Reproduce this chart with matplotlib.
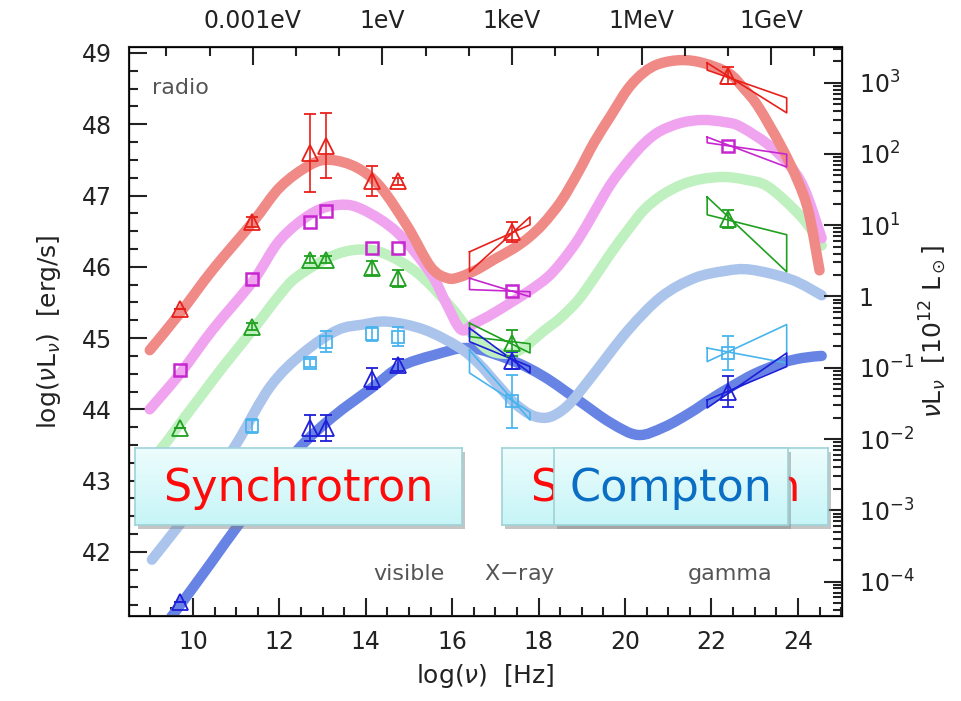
import numpy as np
import matplotlib.pyplot as plt
from matplotlib.patches import Rectangle, PathPatch
from matplotlib.path import Path
from matplotlib.ticker import FixedLocator, FuncFormatter, LogLocator, MultipleLocator, NullFormatter

# model curves: log(nu) vs log(nuLnu)
red_x = [9.0, 9.7, 10.46, 11.39, 12.02, 12.71, 13.18, 13.8, 14.34, 14.97, 15.5, 15.89, 16.19, 16.6, 16.96,
         17.4, 17.75, 18.1, 18.52, 18.91, 19.28, 19.67, 20.07, 20.44, 20.8, 21.3, 21.8, 22.39, 22.75,
         23.09, 23.62, 24.0, 24.25, 24.5]
red_y = [44.83, 45.35, 45.96, 46.63, 47.12, 47.43, 47.5, 47.39, 47.12, 46.56, 46.0, 45.84, 45.86, 45.97, 46.1,
         46.25, 46.4, 46.6, 46.92, 47.32, 47.74, 48.12, 48.5, 48.73, 48.85, 48.9, 48.86, 48.72, 48.5,
         48.24, 47.68, 47.2, 46.76, 45.95]

violet_x = [9.0, 9.7, 10.46, 11.39, 12.02, 12.78, 13.41, 13.94, 14.73, 15.5, 15.85, 16.2, 16.5, 16.96, 17.75,
            18.2, 18.52, 18.91, 19.28, 19.67, 20.07, 20.44, 20.8, 21.3, 21.8, 22.3, 22.69, 23.46, 24.08, 24.55]
violet_y = [44.0, 44.5, 45.12, 45.8, 46.38, 46.76, 46.87, 46.8, 46.48, 45.91, 45.5, 45.12, 45.2, 45.35, 45.65,
            45.85, 46.06, 46.38, 46.76, 47.16, 47.48, 47.73, 47.9, 48.02, 48.06, 48.03, 47.96, 47.64, 47.18, 46.4]

green_x = [9.0, 9.4, 9.7, 10.2, 10.7, 11.39, 12.0, 12.41, 13.18, 13.8, 14.41, 15.2, 15.96, 16.4, 16.8, 17.2,
           17.59, 18.12, 18.5, 18.91, 19.28, 19.67, 20.07, 20.44, 20.84, 21.3, 21.76, 22.3, 22.8, 23.32, 24.08,
           24.55]
green_y = [43.25, 43.55, 43.8, 44.2, 44.6, 45.12, 45.6, 45.86, 46.14, 46.24, 46.19, 45.91, 45.44, 45.1, 44.85,
           44.78, 44.84, 45.1, 45.28, 45.53, 45.84, 46.19, 46.52, 46.8, 47.0, 47.15, 47.23, 47.26, 47.22, 47.12,
           46.7, 46.3]

lblue_x = [9.05, 9.7, 10.3, 11.02, 11.79, 12.55, 13.34, 13.94, 14.5, 15.34, 16.13, 16.6, 17.0, 17.42, 17.8,
           18.12, 18.4, 18.75, 19.28, 20.07, 20.84, 21.6, 22.3, 22.9, 23.85, 24.55]
lblue_y = [41.89, 42.39, 42.87, 43.53, 44.32, 44.79, 45.11, 45.19, 45.23, 45.12, 44.88, 44.65, 44.38, 44.1, 43.93,
           43.88, 43.93, 44.1, 44.5, 45.11, 45.58, 45.84, 45.94, 45.96, 45.82, 45.6]

blue_x = [9.5, 9.7, 10.4, 11.09, 11.8, 12.48, 13.25, 14.18, 14.8, 15.57, 16.4, 17.36, 18.12, 18.91, 19.67,
          20.3, 20.9, 21.5, 22.0, 22.46, 23.0, 23.62, 24.1, 24.55]
blue_y = [41.09, 41.25, 41.83, 42.41, 42.95, 43.47, 43.9, 44.32, 44.6, 44.76, 44.86, 44.69, 44.46, 44.13, 43.81,
          43.64, 43.75, 43.95, 44.15, 44.32, 44.5, 44.65, 44.72, 44.75]

# measured points
nu_pts = [9.7, 11.36, 12.7, 13.08, 14.14, 14.74, 17.38, 22.38]
red_pts = [45.41, 46.63, 47.6, 47.7, 47.2, 47.2, 46.49, 48.68]
red_err = [0.0, 0.07, 0.55, 0.46, 0.21, 0.05, 0.14, 0.12]
violet_pts = [44.55, 45.83, 46.63, 46.78, 46.26, 46.26, 45.66, 47.7]
green_pts = [43.74, 45.16, 46.1, 46.1, 45.98, 45.84, 44.93, 46.67]
green_err = [0.0, 0.05, 0.05, 0.05, 0.1, 0.12, 0.18, 0.12]
cyan_nu = [11.36, 12.7, 13.08, 14.14, 14.74, 17.38, 22.38]
cyan_pts = [43.77, 44.65, 44.95, 45.06, 45.02, 44.11, 44.79]
cyan_err = [0.1, 0.05, 0.15, 0.1, 0.13, 0.37, 0.24]
blue_nu = [9.7, 12.7, 13.08, 14.14, 14.74, 17.38, 22.38]
blue_pts = [41.29, 43.74, 43.74, 44.43, 44.62, 44.68, 44.25]
blue_err = [0.0, 0.18, 0.18, 0.15, 0.08, 0.12, 0.22]

# bowties: (line A left, line A right, line B left, line B right)
xray_edges = (16.4, 17.8)
gamma_edges = (21.9, 23.74)
red_xray = (46.21, 46.59, 45.93, 46.70)
violet_xray = (45.84, 45.58, 45.68, 45.65)
green_xray = (45.21, 44.79, 45.02, 44.92)
blue_xray = (45.14, 44.51, 44.95, 44.60)
cyan_xray = (44.83, 43.85, 44.51, 43.96)
red_gamma = (48.86, 48.16, 48.76, 48.37)
violet_gamma = (47.82, 47.40, 47.74, 47.58)
green_gamma = (46.98, 45.93, 46.73, 46.45)
cyan_gamma = (44.86, 44.65, 44.67, 45.19)
blue_gamma = (44.13, 44.60, 44.02, 44.79)

top_labels = ["0.001eV", "1eV", "1keV", "1MeV", "1GeV"]
top_energy_exp = [-3, 0, 3, 6, 9]

LOG_LSUN12 = np.log10(3.83e45)
LOG_HZ_PER_EV = np.log10(2.418e14)

TXT = '#222222'


def smooth_path(xs, ys):
    # Catmull-Rom through the read points, drawn as cubic bezier segments
    p = np.column_stack([xs, ys]).astype(float)
    ext = np.vstack([p[0], p, p[-1]])
    verts = [p[0]]
    codes = [Path.MOVETO]
    for i in range(1, len(ext) - 2):
        p0, p1, p2, p3 = ext[i - 1], ext[i], ext[i + 1], ext[i + 2]
        verts += [p1 + (p2 - p0) / 6, p2 - (p3 - p1) / 6, p2]
        codes += [Path.CURVE4] * 3
    return Path(verts, codes)


def bowtie(ax, edges, c, color):
    xl, xr = edges
    ax.plot([xl, xr, xr, xl, xl], [c[0], c[1], c[3], c[2], c[0]], color=color, lw=1.2, zorder=3)


def add_box(fig, px, text, color, z):
    W, H = 961.0, 701.0
    x0, y0, x1, y1 = px
    rect = [x0 / W, 1 - y1 / H, (x1 - x0) / W, (y1 - y0) / H]
    shadow = Rectangle((rect[0] + 3 / W, rect[1] - 4 / H), rect[2], rect[3], transform=fig.transFigure,
                       facecolor='#808080', alpha=0.45, edgecolor='none', zorder=z - 1)
    fig.add_artist(shadow)
    bx = fig.add_axes(rect)
    bx.set_zorder(z)
    grad = np.linspace(0, 1, 64).reshape(-1, 1)
    top = np.array([0.93, 0.99, 0.99])
    bot = np.array([0.78, 0.96, 0.97])
    img = top + (bot - top) * grad[:, :, None]
    bx.imshow(img, aspect='auto', extent=(0, 1, 0, 1))
    bx.set_xlim(0, 1)
    bx.set_ylim(0, 1)
    bx.set_xticks([])
    bx.set_yticks([])
    for s in bx.spines.values():
        s.set_color('#9ed3d8')
        s.set_linewidth(1.2)
    bx.text(0.5, 0.48, text, color=color, fontsize=32, ha='center', va='center')


def main():
    fig = plt.figure(figsize=(9.61, 7.01), dpi=100)
    ax = fig.add_axes([129 / 961, 1 - 616 / 701, (842 - 129) / 961, (616 - 47) / 701])

    ax.set_xlim(8.52, 25.02)
    ax.set_ylim(41.10, 49.084)

    curves = [(blue_x, blue_y, '#6784e4'), (lblue_x, lblue_y, '#abc4ec'), (green_x, green_y, '#bff0bf'),
              (violet_x, violet_y, '#f0a4f0'), (red_x, red_y, '#f08a86')]
    for cx, cy, col in curves:
        patch = PathPatch(smooth_path(cx, cy), facecolor='none', edgecolor=col, lw=7.5,
                          capstyle='round', joinstyle='round', zorder=2)
        ax.add_patch(patch)

    # bowties
    for c, col in [(red_xray, '#e8201a'), (violet_xray, '#c626d0'), (green_xray, '#20a020'),
                   (blue_xray, '#1e1ed8'), (cyan_xray, '#48b4ee')]:
        bowtie(ax, xray_edges, c, col)
    for c, col in [(red_gamma, '#e8201a'), (violet_gamma, '#c626d0'), (green_gamma, '#20a020'),
                   (cyan_gamma, '#48b4ee'), (blue_gamma, '#1e1ed8')]:
        bowtie(ax, gamma_edges, c, col)

    kw = dict(ls='none', mfc='none', mew=1.3, elinewidth=1.2, capsize=4.3, capthick=1.2, zorder=4)
    ax.errorbar(nu_pts, red_pts, yerr=red_err, marker='^', ms=11, color='#e8201a', **kw)
    ax.plot(nu_pts, violet_pts, ls='none', marker='s', ms=8, mfc='none', mew=1.8, color='#c626d0', zorder=4)
    ax.errorbar(nu_pts, green_pts, yerr=green_err, marker='^', ms=11, color='#20a020', **kw)
    ax.errorbar(cyan_nu, cyan_pts, yerr=cyan_err, marker='s', ms=8, color='#48b4ee', **kw)
    ax.errorbar(blue_nu, blue_pts, yerr=blue_err, marker='^', ms=11, color='#1e1ed8', **kw)

    # band labels
    ax.text(9.05, 48.51, 'radio', fontsize=16, color='#555555', va='center', ha='left')
    ax.text(15.01, 41.69, 'visible', fontsize=16, color='#555555', va='center', ha='center')
    ax.text(17.56, 41.69, 'X$-$ray', fontsize=16, color='#555555', va='center', ha='center')
    ax.text(22.44, 41.69, 'gamma', fontsize=16, color='#555555', va='center', ha='center')

    # left / bottom axes
    ax.xaxis.set_major_locator(MultipleLocator(2))
    ax.xaxis.set_minor_locator(MultipleLocator(0.5))
    ax.yaxis.set_major_locator(MultipleLocator(1))
    ax.yaxis.set_minor_locator(MultipleLocator(0.25))
    ax.tick_params(which='both', direction='in', top=False, right=False, width=1.5, colors=TXT,
                   labelsize=17)
    ax.tick_params(which='major', length=13)
    ax.tick_params(which='minor', length=6.5)
    ax.tick_params(axis='y', pad=12)
    ax.tick_params(axis='x', pad=10)
    for s in ax.spines.values():
        s.set_linewidth(1.5)
        s.set_color(TXT)
    ax.set_xlabel(r'log($\nu$)  [Hz]', fontsize=18, color=TXT, labelpad=6)
    ax.set_ylabel(r'log($\nu$L$_\nu$)  [erg/s]', fontsize=18, color=TXT, labelpad=14)

    # right axis in 10^12 Lsun
    ax2 = ax.twinx()
    ax2.set_yscale('log')
    ax2.set_ylim(10 ** (41.10 - LOG_LSUN12), 10 ** (49.084 - LOG_LSUN12))
    ax2.yaxis.set_major_locator(LogLocator(base=10, numticks=20))
    ax2.yaxis.set_minor_locator(LogLocator(base=10, subs=np.arange(2, 10), numticks=20))
    ax2.yaxis.set_minor_formatter(NullFormatter())
    ax2.yaxis.set_major_formatter(FuncFormatter(
        lambda v, _: '1' if abs(v - 1) < 1e-9 else r'$10^{%d}$' % int(round(np.log10(v)))))
    ax2.tick_params(which='both', direction='in', width=1.5, colors=TXT, labelsize=17, pad=12)
    ax2.tick_params(which='major', length=13)
    ax2.tick_params(which='minor', length=6.5)
    ax2.set_ylabel(r'$\nu$L$_\nu$  [10$^{12}$ L$_\odot$]', fontsize=18, color=TXT, labelpad=2)

    # top axis in photon energy
    ax3 = ax.twiny()
    ax3.set_xlim(ax.get_xlim())
    ax3.xaxis.set_major_locator(FixedLocator([e + LOG_HZ_PER_EV for e in top_energy_exp]))
    ax3.xaxis.set_minor_locator(FixedLocator([e + LOG_HZ_PER_EV for e in range(-5, 11)]))
    ax3.set_xticklabels(top_labels)
    ax3.tick_params(which='both', direction='in', width=1.5, colors=TXT, labelsize=17, pad=10)
    ax3.tick_params(which='major', length=13)
    ax3.tick_params(which='minor', length=6.5)

    # overlay boxes
    add_box(fig, (135, 448, 462, 525), 'Synchrotron', '#ff0a0a', 20)
    add_box(fig, (502, 448, 828, 525), 'Synchrotron', '#ff0a0a', 22)
    add_box(fig, (554, 448, 788, 525), 'Compton', '#0a6ec4', 24)

    fig.savefig('out.png', dpi=100)


if __name__ == "__main__":
    main()
